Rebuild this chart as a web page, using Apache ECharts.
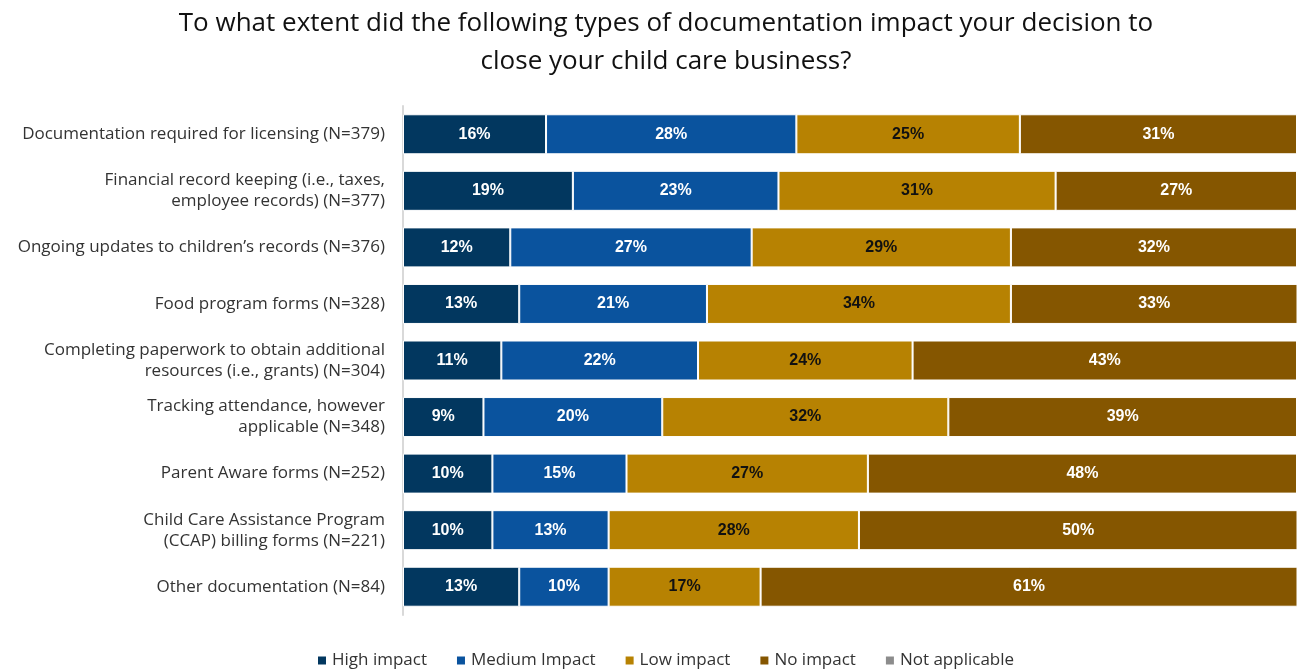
<!DOCTYPE html>
<html>
<head>
<meta charset="utf-8">
<script src="https://cdn.jsdelivr.net/npm/echarts@6/dist/echarts.min.js"></script>
<style>
  html, body { margin: 0; padding: 0; background: #fff; }
  #chart { width: 1298px; height: 671px; }
</style>
</head>
<body>
<div id="chart"></div>
<script>
// Documentation types (top to bottom)
const categories = [
  'Documentation required for licensing (N=379)',
  'Financial record keeping (i.e., taxes,\nemployee records) (N=377)',
  'Ongoing updates to children\u2019s records (N=376)',
  'Food program forms (N=328)',
  'Completing paperwork to obtain additional\nresources (i.e., grants) (N=304)',
  'Tracking attendance, however\napplicable (N=348)',
  'Parent Aware forms (N=252)',
  'Child Care Assistance Program\n(CCAP) billing forms (N=221)',
  'Other documentation (N=84)'
];

// Share of respondents (%) per impact level
const highImpact    = [16, 19, 12, 13, 11, 9, 10, 10, 13];
const mediumImpact  = [28, 23, 27, 21, 22, 20, 15, 13, 10];
const lowImpact     = [25, 31, 29, 34, 24, 32, 27, 28, 17];
const noImpact      = [31, 27, 32, 33, 43, 39, 48, 50, 61];
const notApplicable = [0, 0, 0, 0, 0, 0, 0, 0, 0];

const seriesNames = ['High impact', 'Medium Impact', 'Low impact', 'No impact', 'Not applicable'];
const seriesData = [highImpact, mediumImpact, lowImpact, noImpact, notApplicable];
const colors = ['#02375f', '#0a539e', '#b78202', '#855600', '#8c8c8c'];
const labelColors = ['#ffffff', '#ffffff', '#111111', '#ffffff', '#ffffff'];

const chart = echarts.init(document.getElementById('chart'));

chart.setOption({
  animation: false,
  title: {
    text: 'To what extent did the following types of documentation impact your decision to\nclose your child care business?',
    left: 661,
    textAlign: 'center',
    top: 0,
    textStyle: {
      fontFamily: 'Open Sans',
      fontSize: 26,
      fontWeight: 'normal',
      color: '#111',
      lineHeight: 38
    }
  },
  legend: {
    bottom: -3,
    left: 311,
    itemWidth: 10,
    itemHeight: 10,
    itemGap: 28,
    icon: 'rect',
    textStyle: { fontFamily: 'Open Sans', fontSize: 17, color: '#333' },
    data: seriesNames
  },
  grid: { left: 403, right: 1, top: 106, bottom: 56, containLabel: false },
  xAxis: {
    type: 'value',
    min: 0,
    max: 100,
    show: false
  },
  yAxis: {
    type: 'category',
    inverse: true,
    data: categories,
    axisTick: { show: false },
    axisLine: { show: true, lineStyle: { color: '#d9d9d9', width: 2 } },
    axisLabel: {
      margin: 18,
      fontFamily: 'Open Sans',
      fontSize: 17,
      color: '#333333',
      lineHeight: 21,
      align: 'right'
    }
  },
  series: seriesNames.map((name, i) => ({
    name: name,
    type: 'bar',
    stack: 'total',
    barWidth: 40,
    data: seriesData[i],
    itemStyle: { color: colors[i], borderColor: '#ffffff', borderWidth: 1 },
    label: {
      show: true,
      position: 'inside',
      color: labelColors[i],
      fontFamily: 'Liberation Sans',
      fontWeight: 'bold',
      fontSize: 16,
      formatter: p => (p.value > 0 ? p.value + '%' : '')
    }
  }))
});
</script>
</body>
</html>
